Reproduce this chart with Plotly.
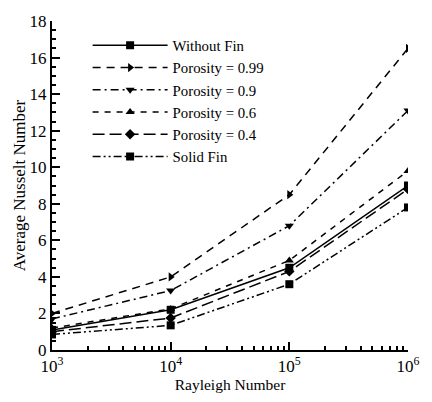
import plotly.graph_objects as go

ra = [1e3, 1e4, 1e5, 1e6]
series_names = ["Without Fin", "Porosity = 0.99", "Porosity = 0.9",
                "Porosity = 0.6", "Porosity = 0.4", "Solid Fin"]
nu_without = [1.1, 2.2, 4.5, 9.0]
nu_099 = [2.0, 4.0, 8.5, 16.5]
nu_09 = [1.7, 3.25, 6.8, 13.1]
nu_06 = [1.2, 2.25, 4.9, 9.8]
nu_04 = [1.0, 1.75, 4.3, 8.8]
nu_solid = [0.85, 1.35, 3.6, 7.8]

values = [nu_without, nu_099, nu_09, nu_06, nu_04, nu_solid]
symbols = ["square", "triangle-right", "triangle-down", "triangle-up", "diamond", "square"]
dashes = ["solid", "8px,6px", "8px,4px,2px,4px", "6px,6px", "12px,5px",
          "8px,3px,2px,3px,2px,3px"]

fig = go.Figure()
for name, y, sym, dash in zip(series_names, values, symbols, dashes):
    fig.add_trace(go.Scatter(
        x=ra, y=y, name=name, mode="lines+markers",
        line=dict(color="black", width=1.5, dash=dash),
        marker=dict(symbol=sym, size=8, color="black"),
    ))

font = "Liberation Serif"
fig.update_layout(
    width=432, height=402,
    margin=dict(l=52, r=14, t=17, b=52),
    paper_bgcolor="white", plot_bgcolor="white",
    font=dict(family=font, color="black", size=14),
    showlegend=True,
    legend=dict(x=0.1, y=0.975, xanchor="left", yanchor="top",
                bgcolor="rgba(0,0,0,0)", font=dict(size=14.8, family=font),
                itemwidth=75, tracegroupgap=0),
    xaxis=dict(
        type="log", range=[3, 6],
        tickvals=[1e3, 1e4, 1e5, 1e6],
        ticktext=["10<sup>3</sup>", "10<sup>4</sup>", "10<sup>5</sup>", "10<sup>6</sup>"],
        ticks="inside", ticklen=8, tickwidth=1.5, tickcolor="black",
        minor=dict(ticks="inside", ticklen=4, tickcolor="black",
                   tickvals=[k * 10 ** e for e in (3, 4, 5) for k in range(2, 10)]),
        showline=True, linecolor="black", linewidth=2, mirror=False,
        showgrid=False, zeroline=False,
        tickfont=dict(size=17, family=font),
        title=dict(text="Rayleigh Number", font=dict(size=15.5, family=font), standoff=0),
    ),
    yaxis=dict(
        range=[0, 18], dtick=2,
        ticks="inside", ticklen=8, tickwidth=1.5, tickcolor="black",
        minor=dict(ticks="inside", ticklen=4, tickcolor="black", dtick=0.5),
        showline=True, linecolor="black", linewidth=2, mirror=False,
        showgrid=False, zeroline=False,
        tickfont=dict(size=17, family=font),
        title=dict(text="Average Nusselt Number", font=dict(size=17, family=font), standoff=0),
    ),
)

fig.write_html("out.html", config={"displayModeBar": False},
               post_script="document.body.style.margin='0';")
